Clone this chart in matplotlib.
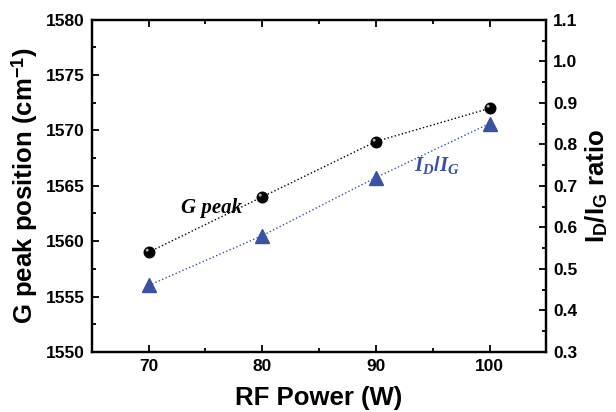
import matplotlib
matplotlib.use("Agg")
import matplotlib.pyplot as plt
from matplotlib.path import Path
from matplotlib.ticker import MultipleLocator

plt.rcParams['font.family'] = ['Liberation Sans', 'DejaVu Sans']
plt.rcParams['font.weight'] = 'bold'
plt.rcParams['mathtext.fontset'] = 'custom'
plt.rcParams['mathtext.rm'] = 'Liberation Sans:bold'
plt.rcParams['mathtext.it'] = 'Liberation Serif:bold:italic'

rf_power = [70, 80, 90, 100]
g_peak = [1559, 1564, 1569, 1572]
id_ig = [0.46, 0.58, 0.72, 0.85]

blue = '#3a52a3'

fig = plt.figure(figsize=(6.16, 4.12), dpi=100)
ax = fig.add_axes([0.149, 0.146, 0.738, 0.806])
ax2 = ax.twinx()

ax.plot(rf_power, g_peak, linestyle=':', color='black', linewidth=1.0, zorder=2)
ax.plot(rf_power, g_peak, linestyle='none', marker='o', markersize=7.6,
        markerfacecolor='black', markeredgecolor='black', zorder=3)
hl = Path.circle(center=(-0.22, 0.22), radius=0.14)
hl = Path(list(hl.vertices) + [(0.5, -0.5), (-0.5, 0.5)],
          list(hl.codes) + [Path.MOVETO, Path.MOVETO])
ax.plot(rf_power, g_peak, linestyle='none', marker=hl, markersize=7.6,
        markerfacecolor='#b0b0b0', markeredgewidth=0, zorder=4)

ax2.plot(rf_power, id_ig, linestyle=':', color=blue, linewidth=1.0, zorder=2)
ax2.plot(rf_power, id_ig, linestyle='none', marker='^', markersize=9.6,
         markerfacecolor=blue, markeredgecolor=blue, zorder=3)

ax.set_xlim(65, 105)
ax.set_ylim(1550, 1580)
ax2.set_ylim(0.3, 1.1)

ax.xaxis.set_major_locator(MultipleLocator(10))
ax.xaxis.set_minor_locator(MultipleLocator(5))
ax.yaxis.set_major_locator(MultipleLocator(5))
ax.yaxis.set_minor_locator(MultipleLocator(2.5))
ax2.yaxis.set_major_locator(MultipleLocator(0.1))
ax2.yaxis.set_minor_locator(MultipleLocator(0.05))
ax2.yaxis.set_major_formatter(matplotlib.ticker.FormatStrFormatter('%.1f'))

ax.tick_params(which='both', direction='in', top=True, right=False, labelsize=12.5, width=1.3, pad=5)
ax.tick_params(which='major', length=5)
ax.tick_params(which='minor', length=3)
ax2.tick_params(which='both', direction='in', labelsize=12.5, width=1.3, pad=5)
ax2.tick_params(which='major', length=5)
ax2.tick_params(which='minor', length=3)

for a in (ax, ax2):
    for s in a.spines.values():
        s.set_linewidth(1.6)

ax.set_xlabel('RF Power (W)', fontsize=18.5, fontweight='bold', labelpad=9)
ax.set_ylabel('G peak position (cm$^{\\mathrm{-1}}$)', fontsize=18.5, fontweight='bold', labelpad=4)
ax2.set_ylabel('I$_{\\mathrm{D}}$/I$_{\\mathrm{G}}$ ratio', fontsize=18.5, fontweight='bold', labelpad=4)

ax.text(75.5, 1563.0, 'G peak', family='Liberation Serif', style='italic', fontweight='bold',
        fontsize=15, ha='center', va='center', color='black')
ax.text(95.4, 1566.9, '$I_D/I_G$', fontsize=15, ha='center', va='center', color=blue)

fig.savefig('out.png', dpi=100)
